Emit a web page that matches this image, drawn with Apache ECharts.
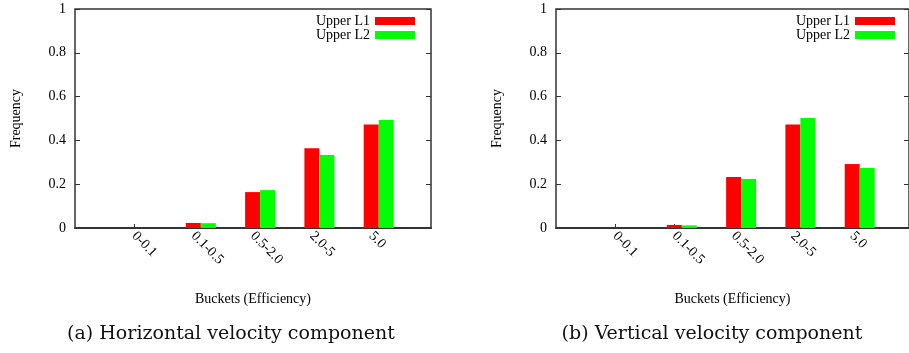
<!DOCTYPE html>
<html>
<head>
<meta charset="utf-8">
<script src="https://cdn.jsdelivr.net/npm/echarts@6/dist/echarts.min.js"></script>
<style>
  html, body { margin: 0; padding: 0; background: #fff; }
  #chart { width: 909px; height: 353px; }
</style>
</head>
<body>
<div id="chart"></div>
<script>
// buckets on the x axis
const buckets = ["0-0.1", "0.1-0.5", "0.5-2.0", "2.0-5", "5.0"];
// (a) horizontal velocity component
const horizL1 = [0, 0.023, 0.164, 0.364, 0.473];
const horizL2 = [0, 0.022, 0.173, 0.333, 0.493];
// (b) vertical velocity component
const vertL1 = [0, 0.014, 0.233, 0.473, 0.292];
const vertL2 = [0, 0.012, 0.224, 0.502, 0.274];

const serif = "Liberation Serif";
const dark = "#333";

let grids = [];
let xAxes = [];
let yAxes = [];
let series = [];
let legends = [];
let graphics = [];

function panel(dx, l1, l2, caption, legendRight) {
  let g = grids.length;
  // frame grid
  grids.push({ left: 75 + dx, top: 9, width: 356, height: 219, show: true, borderColor: dark, borderWidth: 1.5 });
  // bars grid
  grids.push({ left: 111.85 + dx, top: 9, width: 296.5, height: 219 });
  // tick labels grid (ticks sit on the L1 bars)
  grids.push({ left: 104.35 + dx, top: 9, width: 296.5, height: 219 });

  let x0 = xAxes.length;
  xAxes.push({
    gridIndex: g, type: "value", min: 0, max: 1,
    axisLine: { show: true, lineStyle: { color: dark, width: 2 } },
    axisTick: { show: false }, axisLabel: { show: false }, splitLine: { show: false },
    name: "Buckets (Efficiency)", nameLocation: "middle", nameGap: 64,
    nameTextStyle: { fontFamily: serif, fontSize: 14, color: "#000" },
  });
  xAxes.push({ gridIndex: g + 1, type: "category", data: buckets, show: false });
  xAxes.push({
    gridIndex: g + 2, type: "category", data: buckets,
    axisLine: { show: false },
    axisTick: { show: true, inside: true, alignWithLabel: true, length: 4, lineStyle: { color: dark } },
    axisLabel: { rotate: -45, margin: 6, interval: 0, fontFamily: serif, fontSize: 14, color: "#000" },
    splitLine: { show: false },
  });

  let y0 = yAxes.length;
  yAxes.push({
    gridIndex: g, type: "value", min: 0, max: 1, interval: 0.2,
    axisLine: { show: false },
    axisTick: { show: true, inside: true, length: 5, lineStyle: { color: dark } },
    axisLabel: { margin: 9, fontFamily: serif, fontSize: 14, color: "#000" },
    splitLine: { show: false },
    name: "Frequency", nameLocation: "middle", nameRotate: 90, nameGap: 52,
    nameTextStyle: { fontFamily: serif, fontSize: 14, color: "#000" },
  });
  yAxes.push({
    gridIndex: g, type: "value", position: "right", min: 0, max: 1, interval: 0.2,
    axisLine: { show: false },
    axisTick: { show: true, inside: true, length: 5, lineStyle: { color: dark } },
    axisLabel: { show: false }, splitLine: { show: false },
  });
  yAxes.push({ gridIndex: g + 1, type: "value", min: 0, max: 1, show: false });
  yAxes.push({ gridIndex: g + 2, type: "value", min: 0, max: 1, show: false });

  series.push({
    name: "Upper L1", type: "bar", xAxisIndex: x0 + 1, yAxisIndex: y0 + 2,
    data: l1, barWidth: 15, barGap: "0%",
    itemStyle: { color: "#ff0000" },
  });
  series.push({
    name: "Upper L2", type: "bar", xAxisIndex: x0 + 1, yAxisIndex: y0 + 2,
    data: l2, barWidth: 15, barGap: "0%",
    itemStyle: { color: "#00ff00" },
  });

  legends.push({
    data: ["Upper L1", "Upper L2"], orient: "vertical", align: "right",
    right: legendRight, top: 14, padding: 0, itemGap: 0,
    itemWidth: 40, itemHeight: 8, icon: "rect", selectedMode: false,
    textStyle: { fontFamily: serif, fontSize: 14, color: "#000" },
  });

  graphics.push({
    type: "text", x: 231 + dx, y: 334,
    style: { text: caption, fontFamily: "DejaVu Serif", fontSize: 19, fill: "#111", textAlign: "center", textVerticalAlign: "middle" },
  });
}

panel(0, horizL1, horizL2, "(a) Horizontal velocity component", 494);
panel(481, vertL1, vertL2, "(b) Vertical velocity component", 14);

let myChart = echarts.init(document.getElementById("chart"));
let option = {
  animation: false,
  grid: grids,
  xAxis: xAxes,
  yAxis: yAxes,
  legend: legends,
  series: series,
  graphic: graphics,
};
option && myChart.setOption(option);
</script>
</body>
</html>
